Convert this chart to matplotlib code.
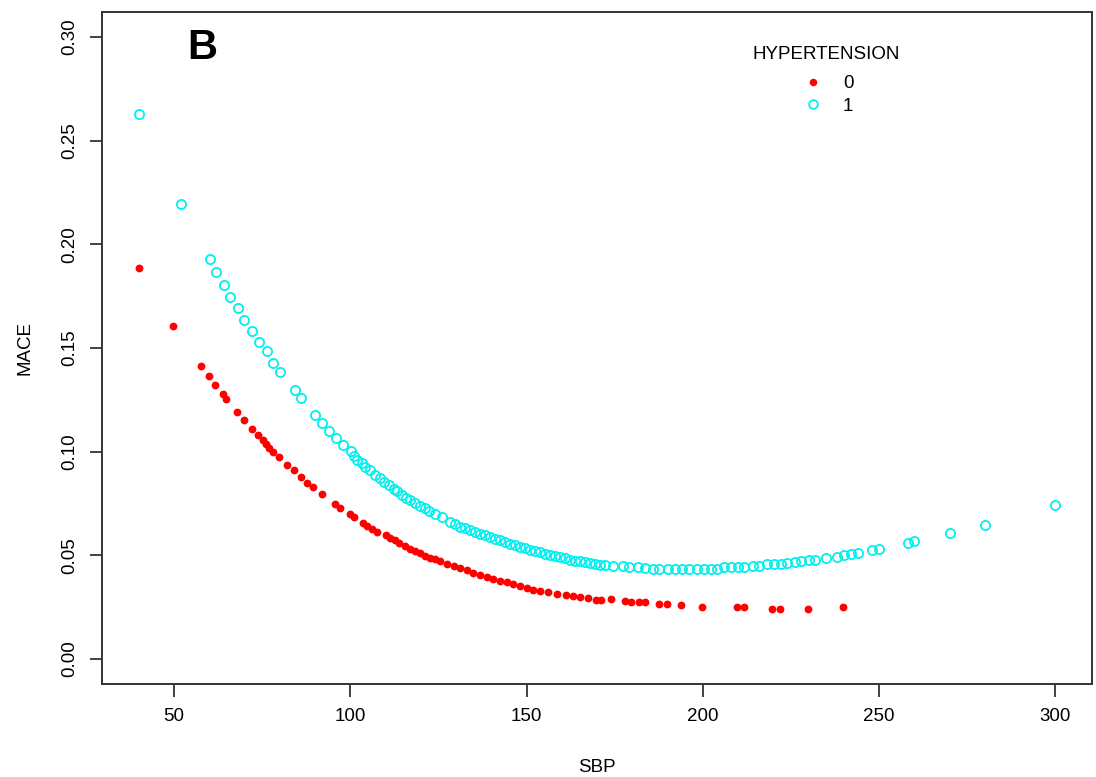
import numpy as np
import matplotlib
matplotlib.use("Agg")
import matplotlib.pyplot as plt

plt.rcParams['font.family'] = ['Liberation Sans', 'DejaVu Sans']

# HYPERTENSION = 0 (red, filled)
sbp_0 = [40, 49.6, 57.6, 59.9, 61.7, 63.9, 64.8, 67.9, 69.8, 72.0, 73.8, 75.2, 76.0,
         77.0, 78.2, 79.8, 82.0, 84.0, 85.9, 87.6, 89.5, 91.9, 95.8, 97.2, 99.8, 101.0,
         103.6, 104.8, 106.2, 107.6, 110.0, 111.4, 112.6, 113.7, 115.6, 117.0, 118.4,
         119.9, 121.3, 122.7, 124.1, 125.5, 127.4, 129.3, 131.2, 133.1, 134.9, 136.8,
         138.7, 140.6, 142.5, 144.4, 146.3, 148.1, 150.0, 151.9, 153.8, 156.1, 158.5,
         161.3, 163.2, 165.1, 167.5, 169.8, 171.2, 173.9, 177.8, 179.7, 181.8, 183.7,
         187.6, 189.9, 193.9, 199.7, 209.8, 211.6, 219.6, 221.9, 229.9, 239.8]
mace_0 = [0.1888, 0.1608, 0.1413, 0.1367, 0.1321, 0.1278, 0.1253, 0.1193, 0.1155, 0.1110,
          0.1080, 0.1057, 0.1038, 0.1019, 0.0998, 0.0974, 0.0934, 0.0914, 0.0879, 0.0851,
          0.0831, 0.0794, 0.0746, 0.0730, 0.0698, 0.0687, 0.0655, 0.0644, 0.0628, 0.0615,
          0.0596, 0.0585, 0.0575, 0.0559, 0.0543, 0.0532, 0.0521, 0.0511, 0.0498, 0.0489,
          0.0482, 0.0471, 0.0460, 0.0447, 0.0438, 0.0428, 0.0417, 0.0407, 0.0398, 0.0388,
          0.0378, 0.0371, 0.0361, 0.0351, 0.0343, 0.0335, 0.0329, 0.0323, 0.0316, 0.0307,
          0.0303, 0.0300, 0.0294, 0.0287, 0.0286, 0.0289, 0.0281, 0.0273, 0.0273, 0.0273,
          0.0265, 0.0265, 0.0259, 0.0251, 0.0251, 0.0251, 0.0243, 0.0243, 0.0243, 0.0251]

# HYPERTENSION = 1 (cyan, open)
sbp_1 = [40, 52, 60.2, 61.9, 64.1, 65.9, 68.2, 69.9, 72.1, 74.0, 76.3, 78.0, 80.1, 84.2,
         86.1, 89.9, 92.1, 94.0, 96.1, 98.0, 100.1, 101.0, 101.9, 103.2, 104.3, 105.7,
         107.1, 108.4, 109.5, 110.9, 112.3, 113.3, 114.7, 115.9, 117.0, 118.4, 119.9,
         121.3, 122.2, 124.1, 126.0, 128.3, 129.8, 131.2, 132.6, 134.0, 135.4, 136.8,
         138.2, 139.7, 141.1, 142.5, 143.9, 145.3, 146.7, 148.1, 149.6, 151.0, 152.4,
         153.8, 155.2, 156.6, 158.0, 159.5, 160.9, 162.3, 163.7, 165.1, 166.5, 167.9,
         169.3, 170.8, 172.2, 174.5, 177.4, 179.2, 181.6, 183.5, 185.8, 187.7, 190.1,
         192.0, 194.1, 196.2, 198.3, 200.3, 202.2, 204.0, 206.1, 208.0, 209.9, 211.8,
         214.1, 216.0, 218.2, 220.3, 222.1, 224.0, 226.1, 227.9, 230.2, 231.9, 235.0,
         238.1, 240.1, 242.1, 243.9, 247.9, 250.1, 258.1, 259.8, 270.2, 279.9, 300]
mace_1 = [0.2630, 0.2195, 0.1930, 0.1867, 0.1806, 0.1747, 0.1695, 0.1634, 0.1581, 0.1530,
          0.1484, 0.1429, 0.1385, 0.1295, 0.1259, 0.1177, 0.1137, 0.1099, 0.1065, 0.1033,
          0.1002, 0.0977, 0.0962, 0.0946, 0.0926, 0.0910, 0.0887, 0.0874, 0.0854, 0.0839,
          0.0822, 0.0810, 0.0791, 0.0779, 0.0767, 0.0751, 0.0740, 0.0727, 0.0714, 0.0698,
          0.0687, 0.0663, 0.0652, 0.0639, 0.0631, 0.0623, 0.0615, 0.0604, 0.0596, 0.0588,
          0.0578, 0.0572, 0.0564, 0.0556, 0.0548, 0.0540, 0.0534, 0.0527, 0.0521, 0.0514,
          0.0508, 0.0502, 0.0495, 0.0491, 0.0486, 0.0479, 0.0474, 0.0471, 0.0466, 0.0463,
          0.0459, 0.0455, 0.0452, 0.0450, 0.0447, 0.0444, 0.0442, 0.0437, 0.0436, 0.0436,
          0.0436, 0.0436, 0.0436, 0.0436, 0.0436, 0.0436, 0.0436, 0.0436, 0.0442, 0.0442,
          0.0442, 0.0442, 0.0448, 0.0450, 0.0457, 0.0457, 0.0457, 0.0465, 0.0466, 0.0473,
          0.0479, 0.0479, 0.0487, 0.0494, 0.0502, 0.0508, 0.0511, 0.0525, 0.0532, 0.0562,
          0.0570, 0.0609, 0.0647, 0.0744]

xticks = [50, 100, 150, 200, 250, 300]
yticks = [0.00, 0.05, 0.10, 0.15, 0.20, 0.25, 0.30]

fig = plt.figure(figsize=(10.96, 7.77), dpi=100)
ax = fig.add_axes([0.0931, 0.1197, 0.9033, 0.8649])

ax.plot(sbp_0, mace_0, linestyle='none', marker='o', ms=4.6, color='#ff0000',
        mec='#ff0000', label='0')
ax.plot(sbp_1, mace_1, linestyle='none', marker='o', ms=6.6, mfc='none',
        mec='#00f0f0', mew=1.3, label='1')

ax.set_xlim(29.6, 310.4)
ax.set_ylim(-0.012, 0.312)
ax.set_xticks(xticks)
ax.set_xticklabels([str(v) for v in xticks], fontsize=13.5)
ax.set_yticks(yticks)
ax.set_yticklabels(['%.2f' % v for v in yticks], fontsize=13.5, rotation=90, va='center')
ax.tick_params(axis='both', length=9, width=1.3, color='#333333', pad=8)
for s in ax.spines.values():
    s.set_linewidth(1.4)
    s.set_color('#333333')

ax.set_xlabel('SBP', fontsize=13.5, labelpad=25)
ax.set_ylabel('MACE', fontsize=13.5, labelpad=20)

ax.text(0.086, 0.947, 'B', transform=ax.transAxes, fontsize=30, fontweight='bold',
        va='center', ha='left')

# legend: title as text, entries below
ax.text(0.731, 0.936, 'HYPERTENSION', transform=ax.transAxes, fontsize=13.5,
        ha='center', va='center')
leg = ax.legend(frameon=False, fontsize=13.5, loc='upper left',
                bbox_to_anchor=(0.682, 0.931), handletextpad=0.6,
                labelspacing=0.28, markerscale=0.95)

fig.savefig('out.png', dpi=100)
